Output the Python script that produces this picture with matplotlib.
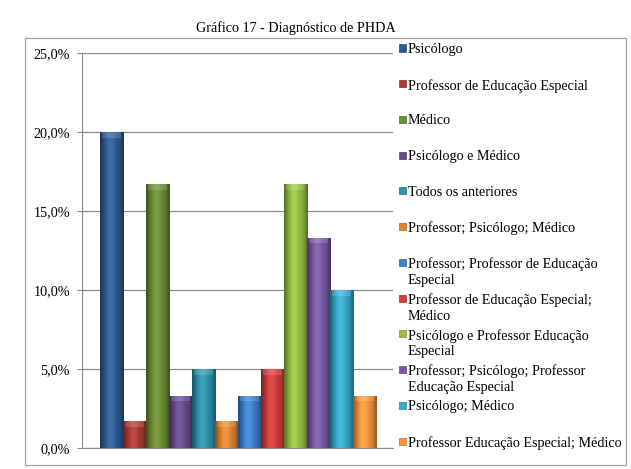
import matplotlib.pyplot as plt
import numpy as np
from matplotlib.colors import to_rgb
from matplotlib.patches import Rectangle

plt.rcParams['font.family'] = ['Liberation Serif', 'DejaVu Serif']

title = "Gráfico 17 - Diagnóstico de PHDA"
labels = [
    "Psicólogo",
    "Professor de Educação Especial",
    "Médico",
    "Psicólogo e Médico",
    "Todos os anteriores",
    "Professor; Psicólogo; Médico",
    "Professor; Professor de Educação\nEspecial",
    "Professor de Educação Especial;\nMédico",
    "Psicólogo e Professor Educação\nEspecial",
    "Professor; Psicólogo; Professor\nEducação Especial",
    "Psicólogo; Médico",
    "Professor Educação Especial; Médico",
]
values = [20.0, 1.7, 16.7, 3.3, 5.0, 1.7, 3.3, 5.0, 16.7, 13.3, 10.0, 3.3]
colors = ["#2E5D95", "#AE3A37", "#6E8D33", "#684B8D", "#2D93AE", "#E2862E",
          "#3C80CE", "#D23C3B", "#95C041", "#7A58A5", "#35ACCE", "#F7963A"]
yticks = [0, 5, 10, 15, 20, 25]
ytick_labels = ["0,0%", "5,0%", "10,0%", "15,0%", "20,0%", "25,0%"]

W, H = 631, 469
fig = plt.figure(figsize=(W / 100, H / 100), dpi=100)

# outer chart border
fig.patches.append(Rectangle((25 / W, 4 / H), 601 / W, 427 / H, transform=fig.transFigure,
                             fill=False, edgecolor="#a0a0a0", linewidth=0.9))
fig.text(296 / W, 1 - 28 / H, title, ha="center", va="center", fontsize=10.2)

ax = fig.add_axes([82 / W, 1 - 448 / H, 311 / W, 395 / H])
x = np.arange(len(values))
bars = ax.bar(x, values, width=1.0, color=colors, zorder=3,
              edgecolor=[tuple(c * 0.75 for c in to_rgb(col)) for col in colors], linewidth=0.6)

# soft bevel shading across each bar
shade = np.array([0.6, 0.82, 0.95, 1.0, 1.0, 0.98, 0.95, 0.9, 0.82, 0.6])
for b, col in zip(bars, colors):
    rgb = np.array(to_rgb(col))
    img = np.clip(rgb[None, :] * shade[:, None] + (shade[:, None] > 0.97) * 0.06, 0, 1)[None, :, :]
    im = ax.imshow(img, extent=(b.get_x(), b.get_x() + b.get_width(), 0, b.get_height()),
                   aspect="auto", zorder=3.5, interpolation="bicubic")
    im.set_clip_path(b)
    top = min(0.35, b.get_height() * 0.2)
    ax.add_patch(Rectangle((b.get_x() + 0.1, b.get_height() - top), b.get_width() - 0.2, top,
                           facecolor="white", alpha=0.15, edgecolor="none", zorder=4))

ax.set_xlim(-1.28, 12.24)
ax.set_ylim(0, 25)
ax.set_yticks(yticks)
ax.set_yticklabels(ytick_labels, fontsize=10.2)
ax.set_xticks([])
ax.yaxis.grid(True, color="#8c8c8c", linewidth=0.9, zorder=0)
ax.set_axisbelow(True)
for s in ["top", "right"]:
    ax.spines[s].set_visible(False)
ax.spines["left"].set_color("#8c8c8c")
ax.spines["bottom"].set_color("#8c8c8c")
ax.tick_params(axis="y", length=3.6, color="#8c8c8c", pad=5)
ax.set_facecolor("none")

# legend, placed like the spreadsheet one
for i, (lab, col) in enumerate(zip(labels, colors)):
    yc = 48 + 35.73 * i
    fig.patches.append(Rectangle((399 / W, 1 - (yc + 3.5) / H), 7 / W, 7 / H,
                                 transform=fig.transFigure, facecolor=col,
                                 edgecolor=tuple(c * 0.75 for c in to_rgb(col)), linewidth=0.5))
    fig.text(408 / W, 1 - (yc - 5) / H, lab, ha="left", va="top", fontsize=10.2,
             linespacing=1.28)

fig.savefig("out.png", dpi=100)
